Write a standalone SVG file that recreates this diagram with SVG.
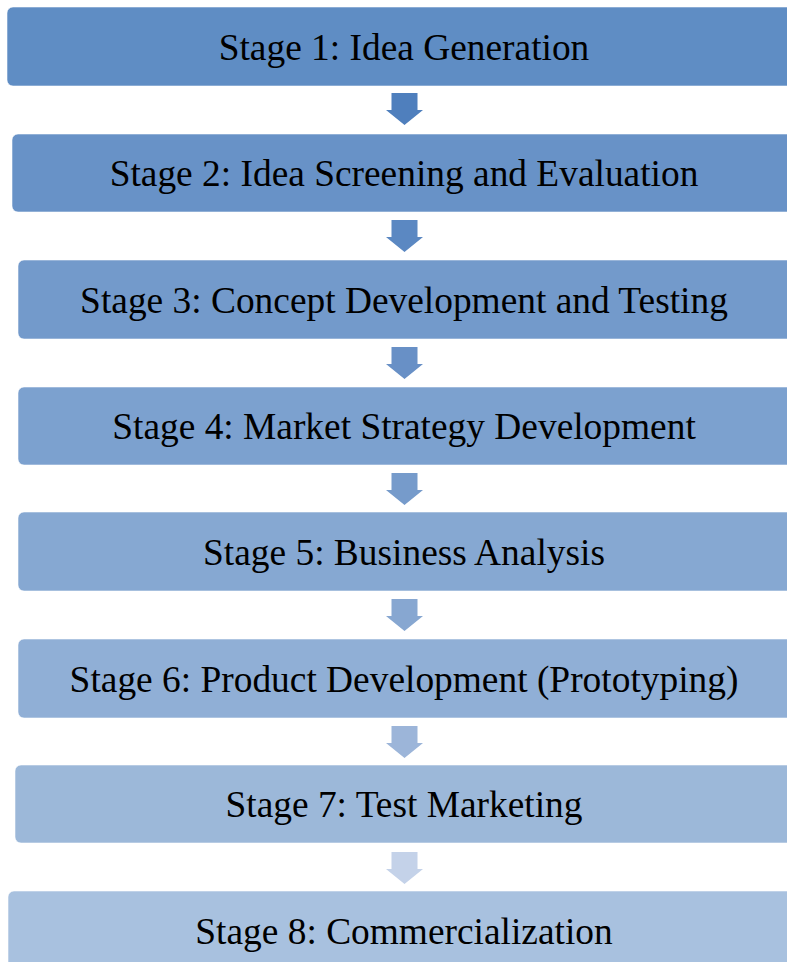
<svg xmlns="http://www.w3.org/2000/svg" width="787" height="962" viewBox="0 0 787 962">
  <style>
    .box { stroke: #ffffff; stroke-opacity: 0.55; stroke-width: 1; }
    .label { font-family: "Liberation Serif", "Times New Roman", serif; font-size: 37.4px; fill: #000000; text-anchor: middle; }
  </style>
  <defs>
    <!-- down arrow, origin at top-centre of the shaft -->
    <path id="down" d="M -13 0 H 13 V 17 H 18.5 L 0 32 L -18.5 17 H -13 Z"/>
  </defs>
  <rect width="787" height="962" fill="#ffffff"/>

  <g id="connectors">
    <use href="#down" x="404.5" y="93" fill="#4f7fbd"/>
    <use href="#down" x="404.5" y="220" fill="#5b88c2"/>
    <use href="#down" x="404.5" y="347" fill="#6890c6"/>
    <use href="#down" x="404.5" y="473" fill="#769bcb"/>
    <use href="#down" x="404.5" y="599" fill="#87a7d1"/>
    <use href="#down" x="404.5" y="726" fill="#9cb5d9"/>
    <use href="#down" x="404.5" y="852" fill="#c4d2e9"/>
  </g>

  <g id="stage1">
    <rect class="box" x="7" y="7" width="794" height="79" rx="6" fill="#5f8dc4"/>
    <text class="label" x="404" y="59.5">Stage 1: Idea Generation</text>
  </g>
  <g id="stage2">
    <rect class="box" x="12" y="134" width="784" height="78" rx="6" fill="#6892c7"/>
    <text class="label" x="404" y="185.5">Stage 2: Idea Screening and Evaluation</text>
  </g>
  <g id="stage3">
    <rect class="box" x="18" y="260" width="780" height="79" rx="6" fill="#739acb"/>
    <text class="label" x="404" y="312.5">Stage 3: Concept Development and Testing</text>
  </g>
  <g id="stage4">
    <rect class="box" x="18" y="387" width="780" height="78" rx="6" fill="#7ca1cf"/>
    <text class="label" x="404" y="438.5">Stage 4: Market Strategy Development</text>
  </g>
  <g id="stage5">
    <rect class="box" x="18" y="512" width="780" height="79" rx="6" fill="#86a8d2"/>
    <text class="label" x="404" y="564.5">Stage 5: Business Analysis</text>
  </g>
  <g id="stage6">
    <rect class="box" x="18" y="639" width="780" height="79" rx="6" fill="#90afd6"/>
    <text class="label" x="404" y="691.5">Stage 6: Product Development (Prototyping)</text>
  </g>
  <g id="stage7">
    <rect class="box" x="15" y="765" width="786" height="78" rx="6" fill="#9cb8d9"/>
    <text class="label" x="404" y="816.5">Stage 7: Test Marketing</text>
  </g>
  <g id="stage8">
    <rect class="box" x="8" y="891" width="794" height="79" rx="6" fill="#a8c1df"/>
    <text class="label" x="404" y="943.5">Stage 8: Commercialization</text>
  </g>
</svg>
